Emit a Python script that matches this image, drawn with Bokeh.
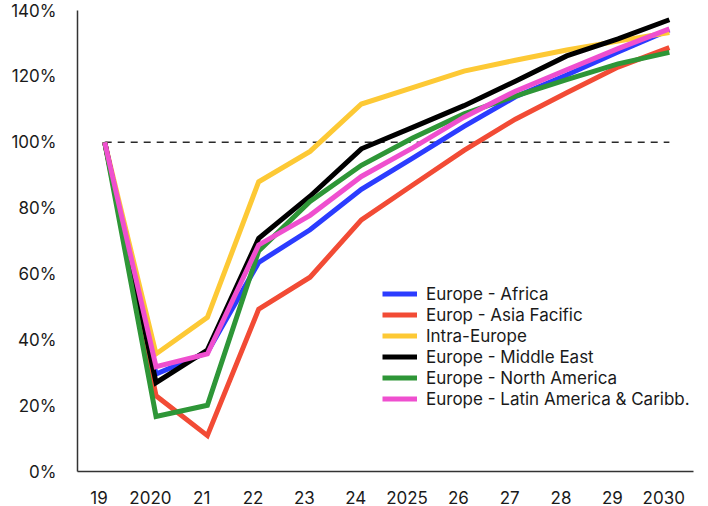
from bokeh.plotting import figure
from bokeh.models import Range1d, FixedTicker, PrintfTickFormatter, Legend, LegendItem
from bokeh.embed import file_html
from bokeh.resources import INLINE

# Passenger traffic index by route region, 2019 = 100%
year_labels = ["19", "2020", "21", "22", "23", "24", "2025", "26", "27", "28", "29", "2030"]

europe_africa = [100, 29.6, 36.2, 63.5, 73.4, 85.7, 95.2, 104.8, 113.8, 120.4, 127.4, 134.1]
europe_asia_pacific = [100, 23.0, 10.9, 49.3, 59.0, 76.4, 87.0, 97.5, 107.0, 115.0, 122.8, 128.7]
intra_europe = [100, 35.7, 46.8, 88.0, 97.2, 111.6, 116.6, 121.6, 124.9, 128.0, 130.7, 133.3]
europe_middle_east = [100, 27.0, 36.9, 70.8, 83.6, 98.0, 104.5, 111.1, 118.5, 126.2, 131.4, 137.2]
europe_north_america = [100, 16.7, 20.1, 67.0, 82.0, 93.0, 101.3, 108.6, 114.0, 119.0, 123.8, 127.3]
europe_latin_america = [100, 31.8, 35.7, 68.8, 77.8, 89.6, 98.3, 107.6, 115.5, 122.0, 128.4, 134.4]

series_names = ["Europe - Africa", "Europ - Asia Facific", "Intra-Europe",
                "Europe - Middle East", "Europe - North America",
                "Europe - Latin America & Caribb."]
series_values = [europe_africa, europe_asia_pacific, intra_europe,
                 europe_middle_east, europe_north_america, europe_latin_america]
series_colors = ["#2b3cff", "#f24b35", "#fdc935", "#000000", "#2e9637", "#ef4fcf"]

baseline = 100
y_ticks = [0, 20, 40, 60, 80, 100, 120, 140]

FONT = "Inter"
TEXT = "#1a1a1a"

xs = list(range(len(year_labels)))

p = figure(width=708, height=506, output_backend="svg", toolbar_location=None,
           x_range=Range1d(-0.53, len(xs) - 1 + 0.47), y_range=Range1d(0, 140),
           min_border_left=77, min_border_right=15, min_border_top=10,
           min_border_bottom=35)
p.outline_line_color = None
p.xgrid.visible = False
p.ygrid.visible = False
p.background_fill_color = "white"
p.border_fill_color = "white"

# 2019 reference level
p.line(x=[xs[0], xs[-1]], y=[baseline, baseline], line_color="#2a2a2a",
       line_width=1.4, line_dash="7 6")

items = []
for name, vals, col in zip(series_names, series_values, series_colors):
    r = p.line(x=xs, y=vals, line_color=col, line_width=5, line_join="miter")
    items.append(LegendItem(label=name, renderers=[r]))

legend = Legend(items=items, location=(305, 62), orientation="vertical",
                glyph_width=35, glyph_height=21, label_height=21, spacing=0,
                padding=0, margin=0, label_standoff=9,
                label_text_font=FONT, label_text_font_size="17px",
                label_text_color=TEXT, background_fill_alpha=0,
                border_line_color=None)
p.add_layout(legend, "center")

# axes
xa = p.xaxis[0]
xa.ticker = FixedTicker(ticks=[x - 0.11 for x in xs])
xa.major_label_overrides = {x - 0.11: lab for x, lab in zip(xs, year_labels)}
ya = p.yaxis[0]
ya.ticker = FixedTicker(ticks=y_ticks)
ya.formatter = PrintfTickFormatter(format="%d%%")

for ax in (xa, ya):
    ax.axis_line_color = "#333333"
    ax.axis_line_width = 1.5
    ax.major_tick_line_color = None
    ax.minor_tick_line_color = None
    ax.major_label_text_font = FONT
    ax.major_label_text_font_size = "17px"
    ax.major_label_text_color = TEXT
xa.major_label_standoff = 13
ya.major_label_standoff = 15

open("out.html", "w").write(file_html(p, INLINE))
